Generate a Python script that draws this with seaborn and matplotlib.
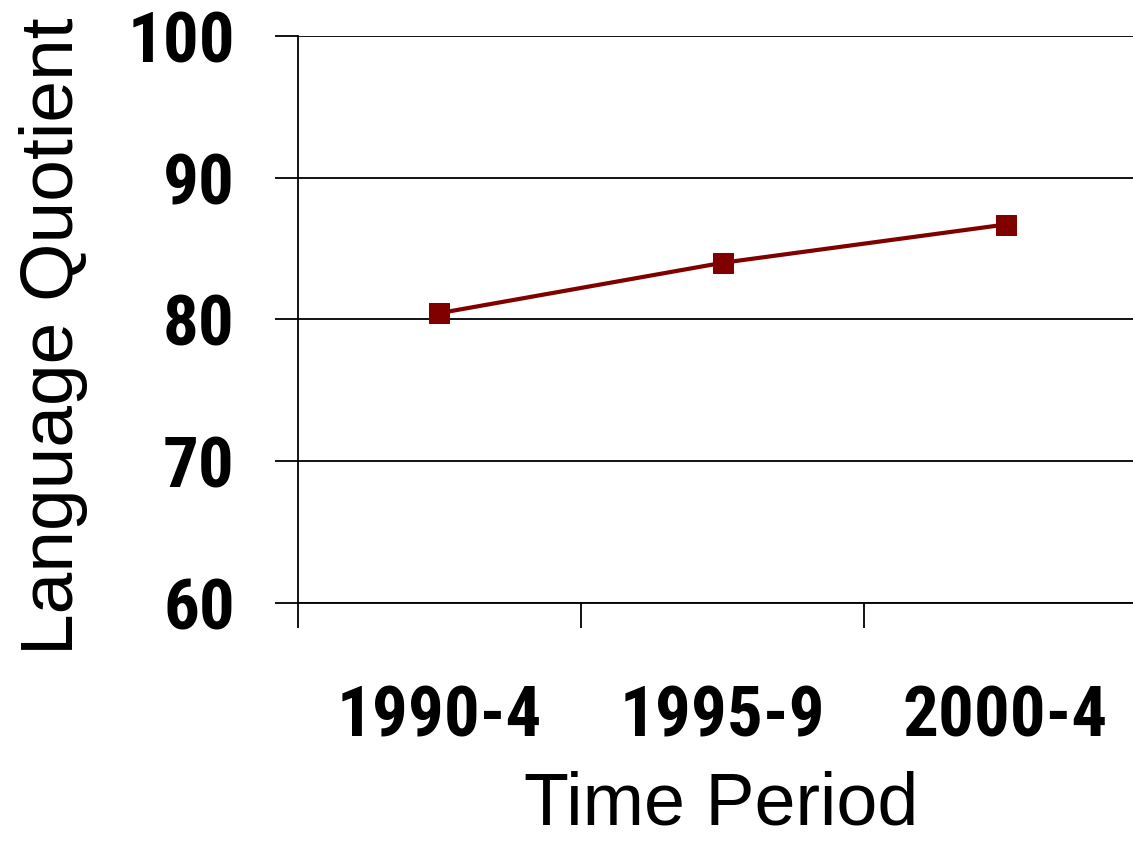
import pandas as pd
import matplotlib.pyplot as plt
import seaborn as sns
from matplotlib.ticker import FixedLocator

# data
periods = ["1990-4", "1995-9", "2000-4"]
quotient = [80.45, 84.0, 86.7]
y_ticks = [60, 70, 80, 90, 100]

df = pd.DataFrame({"period": periods, "lq": quotient})

sns.set_style("white", {"text.color": "black", "axes.labelcolor": "black",
                        "xtick.color": "black", "ytick.color": "black"})
narrow = ["Roboto Condensed", "PT Sans Narrow", "DejaVu Sans"]
plain = ["Liberation Sans", "DejaVu Sans"]

fig = plt.figure(figsize=(11.33, 8.43), dpi=100)
ax = fig.add_axes([0.263, 0.2847, 0.7494, 0.6726])

sns.lineplot(data=df, x="period", y="lq", sort=False, color="#800000",
             linewidth=3.0, marker="s", markersize=15,
             markeredgecolor="#800000", ax=ax, zorder=5)

# axes range and ticks
ax.set_ylim(60, 100)
ax.set_yticks(y_ticks)
ax.set_xlim(-0.5, 2.5)
ax.set_xticks(range(len(periods)))
ax.set_xticklabels(periods)
ax.xaxis.set_minor_locator(FixedLocator([-0.5, 0.5, 1.5, 2.5]))

ax.grid(axis="y", color="black", linewidth=1.3)
ax.grid(axis="x", visible=False)
for s in ["top", "right"]:
    ax.spines[s].set_visible(False)
for s in ["left", "bottom"]:
    ax.spines[s].set_color("black")
    ax.spines[s].set_linewidth(1.3)

ax.tick_params(axis="y", which="major", direction="out", length=16.5,
               width=1.3, color="black", left=True, pad=29)
ax.tick_params(axis="x", which="major", length=0, pad=58)
ax.tick_params(axis="x", which="minor", direction="out", length=18,
               width=1.3, color="black", bottom=True)

for lab in ax.get_yticklabels() + ax.get_xticklabels():
    lab.set_fontfamily(narrow)
    lab.set_fontweight("bold")
    lab.set_fontsize(51)
    lab.set_color("black")

ax.set_xlabel("Time Period", fontsize=53, family=plain, color="black")
ax.set_ylabel("Language Quotient", fontsize=54, family=plain, color="black")
ax.xaxis.set_label_coords(0.498, -0.295)
ax.yaxis.set_label_coords(-0.247, 0.471)

fig.savefig("out.png", dpi=100)
